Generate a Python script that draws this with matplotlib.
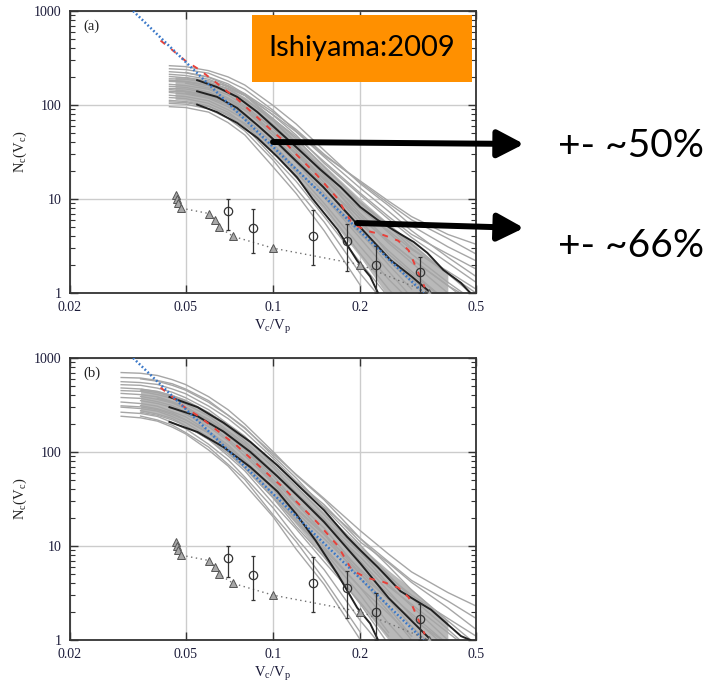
import numpy as np
import matplotlib.pyplot as plt
from matplotlib.patches import Rectangle, FancyArrowPatch

plt.rcParams['font.family'] = ['Liberation Serif', 'DejaVu Serif']
plt.rcParams['mathtext.fontset'] = 'stix'

nan = np.nan

# ---- data ----
# power-law fit (blue dotted) and mean (red dashed)
fit_x = [0.033, 0.33]
fit_n = [1000, 1]
red_x = [0.041, 0.045, 0.050, 0.0555, 0.062, 0.0675, 0.075, 0.091, 0.10, 0.109, 0.12,
         0.142, 0.167, 0.187, 0.21, 0.24, 0.27, 0.293, 0.317, 0.333]
red_n = [485, 385, 294, 240, 185, 150, 117, 68, 52, 41.5, 30,
         17.8, 10.1, 5.5, 4.6, 4.14, 3.6, 2.85, 1.63, 1.15]

# black lines, panel (a)
up_a_x = [0.0548, 0.0642, 0.0752, 0.0884, 0.1036, 0.121, 0.146, 0.171, 0.2, 0.229, 0.26,
          0.305, 0.34, 0.386, 0.444, 0.478]
up_a_n = [184, 155, 122, 84, 54, 35, 20.4, 13.4, 8.2, 6.0, 4.68, 3.49, 2.67, 1.76, 1.28, 1.0]
mid_a_x = [0.0548, 0.0642, 0.0752, 0.0884, 0.1036, 0.121, 0.149, 0.19, 0.254, 0.30, 0.35]
mid_a_n = [140, 122, 93, 61, 39.5, 24.8, 13.4, 5.9, 2.24, 1.5, 1.0]
low_a_x = [0.0548, 0.0642, 0.0752, 0.0884, 0.1036, 0.121, 0.137, 0.167, 0.195, 0.216, 0.23]
low_a_n = [101, 84, 64.5, 44.6, 28, 17, 10, 4.7, 2.2, 1.5, 1.0]

# black lines, panel (b)
up_b_x = [0.044, 0.055, 0.0675, 0.0836, 0.1036, 0.124, 0.15, 0.18, 0.2, 0.229, 0.275, 0.35,
          0.444, 0.478]
up_b_n = [385, 300, 205, 128, 72, 42, 24, 12.5, 9, 6, 3.3, 2.1, 1.1, 1.0]
mid_b_x = [0.044, 0.055, 0.0675, 0.0836, 0.1036, 0.127, 0.15, 0.2, 0.25, 0.3, 0.35]
mid_b_n = [300, 240, 165, 100, 55, 30, 18, 6.5, 2.8, 1.6, 1.0]
low_b_x = [0.044, 0.055, 0.0675, 0.0836, 0.1036, 0.12, 0.14, 0.167, 0.195, 0.216, 0.23]
low_b_n = [209, 163, 113, 69, 38, 22, 11.5, 5, 2.2, 1.5, 1.0]

# dense core of the halo-to-halo scatter
band_a_x = [0.046, 0.05, 0.06, 0.07, 0.08, 0.1, 0.12, 0.15, 0.2, 0.25, 0.3, 0.35, 0.4]
band_a_lo = [115, 112, 98, 78, 60, 31, 17, 7.5, 2.4, 0.9, 0.5, 0.3, 0.2]
band_a_hi = [200, 198, 180, 152, 122, 72, 44, 23, 10, 5.5, 3.5, 2.3, 1.6]
band_b_x = [0.035, 0.04, 0.045, 0.05, 0.06, 0.07, 0.08, 0.1, 0.12, 0.15, 0.2, 0.25, 0.3,
            0.35, 0.4]
band_b_lo = [270, 255, 225, 195, 140, 98, 68, 33, 17, 7.5, 2.4, 1.0, 0.5, 0.3, 0.2]
band_b_hi = [480, 450, 410, 365, 270, 195, 140, 75, 44, 23, 10, 5.5, 3.5, 2.3, 1.6]

# individual halos (gray), panel (a)
grid_a = [0.044, 0.05, 0.06, 0.07, 0.08, 0.1, 0.12, 0.15, 0.2, 0.25, 0.3, 0.4, 0.5]
gray_a = [
    [262, 256, 232, 199, 163, 99, 63, 33, 14.5, 8.5, 5.2, 3.1, 2.2],
    [243, 238, 218, 180, 147, 88, 53, 29, 15.5, 9.5, 6.5, 4.2, 3.3],
    [nan, 222, 199, 168, 131, 78, 48, 24, 11, 6.1, 3.9, 2.1, 1.3],
    [212, 206, 188, 155, 127, 72, 44, 22, 9.2, 5.3, 3.3, 1.6, 0.9],
    [201, 195, 175, 148, 116, 68, 39, 20, 8.1, 4.4, 2.6, 1.3, 0.8],
    [190, 188, 172, 150, 126, 79, 52, 28, 13, 7.4, 4.6, 2.4, 1.5],
    [183, 179, 163, 134, 109, 62, 37, 18.5, 7.0, 3.6, 2.3, 1.2, 0.7],
    [nan, 171, 152, 128, 98, 56, 33, 16.5, 6.6, 3.4, 2.1, 1.0],
    [166, 161, 147, 119, 94, 51, 30, 15, 5.5, 2.8, 1.7, 0.8],
    [158, 154, 138, 114, 89, 48, 27, 13, 4.8, 2.2, 1.3, 0.6],
    [150, 148, 134, 116, 95, 57, 35, 19, 9.0, 5.2, 3.0, 1.6, 1.0],
    [146, 141, 128, 104, 81, 42, 24.5, 11.5, 4.4, 2.0, 1.1],
    [nan, 134, 121, 101, 78, 44, 27, 14, 6.2, 3.6, 2.3, 1.2, 0.8],
    [136, 131, 118, 96, 74, 39, 21, 10.5, 3.8, 1.7, 0.9],
    [127, 123, 111, 89, 70, 34, 19.5, 9, 3.1, 1.4, 0.8],
    [120, 117, 104, 84, 62, 32, 17, 8.3, 2.6, 1.1, 0.6],
    [112, 109, 98, 77, 59, 28, 15.5, 6.5, 2.1, 0.9],
    [104, 102, 91, 72, 53, 26, 13, 5.7, 1.6, 0.7],
    [96, 94, 84, 65, 48, 22, 11.5, 4.6, 1.2],
    [226, 220, 197, 161, 127, 69, 40, 17.5, 6.0, 2.6, 1.6, 0.8],
    [178, 176, 160, 139, 114, 71, 46, 25, 11.5, 6.5, 4.2, 2.6, 1.8],
    [nan, 196, 181, 158, 132, 84, 55, 30, 15, 9.0, 6.0, 3.8, 2.6],
    [140, 138, 125, 108, 88, 52, 31, 16, 7.8, 4.6, 2.9, 1.7, 1.1],
    [108, 106, 96, 80, 64, 36, 21, 10.5, 4.2, 2.3, 1.4, 0.7],
]

# individual halos (gray), panel (b)
grid_b = [0.03, 0.035, 0.04, 0.045, 0.05, 0.06, 0.07, 0.08, 0.1, 0.12, 0.15, 0.2, 0.25, 0.3,
          0.4, 0.5]
gray_b = [
    [700, 688, 652, 588, 522, 388, 282, 198, 101, 57, 31, 12, 6.1, 3.4, 1.6, 0.9],
    [620, 612, 577, 532, 468, 352, 247, 182, 91, 53, 25.5, 10.2, 4.9, 2.8, 1.3, 0.7],
    [560, 548, 523, 468, 417, 308, 227, 163, 86, 49, 27.5, 11, 6.6, 4.1, 2.2, 1.3],
    [520, 512, 478, 432, 378, 282, 198, 147, 74, 43, 21.5, 8.6, 3.9, 2.3, 1.0],
    [480, 468, 442, 398, 352, 258, 187, 130, 69, 37, 19.5, 6.9, 3.3, 1.8, 0.8],
    [450, 442, 408, 372, 323, 242, 168, 123, 61, 35.5, 17.5, 7.6, 3.7, 2.4, 1.2, 0.7],
    [420, 408, 386, 343, 302, 218, 157, 108, 56, 29.5, 15.5, 5.4, 2.7, 1.4, 0.6],
    [nan, 390, 363, 332, 288, 214, 148, 106, 51, 28.5, 13.6, 5.1, 2.2, 1.1],
    [380, 372, 343, 312, 268, 197, 137, 98, 48.5, 25.5, 13.3, 4.5, 2.0, 1.0],
    [nan, 352, 328, 297, 253, 186, 131, 91, 46.5, 24.5, 13.2, 5.6, 3.1, 1.9, 0.9],
    [340, 328, 307, 268, 237, 166, 119, 81, 40.5, 21, 9.7, 3.6, 1.5, 0.8],
    [nan, 312, 288, 259, 221, 159, 108, 77, 35.5, 19.3, 8.8, 3.0, 1.2],
    [300, 290, 272, 238, 206, 144, 101, 67, 32.5, 16.2, 7.6, 2.4, 0.9],
    [nan, 276, 253, 227, 191, 136, 91, 63, 28.5, 15.3, 6.8, 2.5, 1.1],
    [265, 257, 239, 206, 177, 121, 83, 54, 25.5, 12.3, 5.6, 1.6, 0.7],
    [nan, 241, 219, 193, 161, 113, 74, 51, 21.5, 11.2, 4.4, 1.2],
    [240, 231, 213, 184, 156, 105, 71, 45, 20.5, 9.3, 3.9, 1.0],
    [nan, 600, 566, 512, 455, 338, 246, 178, 96, 58, 32, 14.5, 8.2, 5.3, 3.2, 2.3],
    [nan, 455, 428, 388, 345, 262, 192, 141, 78, 47, 26, 12, 6.8, 4.3, 2.6, 1.7],
    [nan, nan, 372, 338, 297, 224, 162, 117, 62, 36, 19, 8.4, 4.7, 3.0, 1.7, 1.1],
    [310, 302, 282, 250, 219, 159, 113, 80, 41, 23, 12, 5.0, 2.7, 1.7, 0.9],
    [nan, 265, 246, 219, 190, 137, 96, 67, 33, 18, 9.2, 3.6, 1.9, 1.1],
]

# observations (same in both panels)
sat_x = [0.0464, 0.0466, 0.0471, 0.0482, 0.0603, 0.0632, 0.0652, 0.073, 0.10, 0.20, 0.345]
sat_n = [11, 10, 9, 8, 7, 6, 5, 4, 3, 2, 1]
obs_x = [0.0702, 0.0854, 0.137, 0.18, 0.227, 0.322]
obs_n = [7.45, 4.9, 4.0, 3.6, 2.0, 1.67]
obs_hi = [10.0, 7.8, 7.6, 5.4, 3.2, 2.4]
obs_lo = [4.7, 2.67, 2.0, 1.7, 1.0, 1.0]

W, H = 706, 686
fig = plt.figure(figsize=(W / 100, H / 100), dpi=100)


def fx(px):
    return px / W


def fy(py):
    return 1 - py / H


label_col = '#1c1c3a'
ax_a = fig.add_axes([fx(70), fy(293), 406 / W, 282 / H])
ax_b = fig.add_axes([fx(70), fy(640), 406 / W, 282 / H])

panels = [
    (ax_a, '(a)', grid_a, gray_a, (band_a_x, band_a_lo, band_a_hi),
     (up_a_x, up_a_n), (mid_a_x, mid_a_n), (low_a_x, low_a_n)),
    (ax_b, '(b)', grid_b, gray_b, (band_b_x, band_b_lo, band_b_hi),
     (up_b_x, up_b_n), (mid_b_x, mid_b_n), (low_b_x, low_b_n)),
]

for ax, tag, grid, grays, band, up, mid, low in panels:
    ax.set_xscale('log')
    ax.set_yscale('log')
    ax.set_xlim(0.02, 0.5)
    ax.set_ylim(1, 1000)
    ax.fill_between(band[0], band[1], band[2], color='#b9b9b9', lw=0, zorder=1.5)
    for g in grays:
        ax.plot(grid[:len(g)], g, color='#a6a6a6', lw=1.0, zorder=2)
    for xs, ns in (up, mid, low):
        ax.plot(xs, ns, color='#222222', lw=1.4, zorder=3)
    ax.plot(red_x, red_n, color='#e8413a', lw=1.4, ls=(0, (3, 4)), zorder=4)
    ax.plot(fit_x, fit_n, color='#3a78c8', lw=1.8, ls=(0, (0.7, 0.9)), zorder=4)
    ax.plot(sat_x, sat_n, color='#707070', lw=1.0, ls=(0, (1, 2.5)), zorder=5)
    ax.plot(sat_x, sat_n, ls='none', marker='^', ms=5.5, mfc='#a8a8a8', mec='#555555',
            mew=0.7, zorder=6)
    yerr = [np.subtract(obs_n, obs_lo), np.subtract(obs_hi, obs_n)]
    ax.errorbar(obs_x, obs_n, yerr=yerr, fmt='o', ms=6, mfc='none', mec='#333333',
                mew=0.9, ecolor='#333333', elinewidth=0.9, capsize=1.5, zorder=6)

    ax.set_xticks([0.02, 0.05, 0.1, 0.2, 0.5])
    ax.set_xticklabels(['0.02', '0.05', '0.1', '0.2', '0.5'])
    ax.xaxis.set_minor_locator(plt.NullLocator())
    ax.set_yticks([1, 10, 100, 1000])
    ax.set_yticklabels(['1', '10', '100', '1000'])
    ax.grid(True, which='major', color='#cccccc', lw=1.0, zorder=0)
    ax.set_axisbelow(True)
    ax.tick_params(which='both', direction='in', top=True, right=True,
                   labelsize=10, labelcolor=label_col, color='#333333')
    ax.tick_params(which='major', length=6, width=1.0, pad=6)
    ax.tick_params(which='minor', length=3.5, width=0.8)
    for s in ax.spines.values():
        s.set_linewidth(1.3)
        s.set_color('#333333')
    ax.text(0.032, 0.947, tag, transform=ax.transAxes, fontsize=10.5,
            color='#222222', va='center', ha='left')

for top_px, bot_px in ((11, 293), (358, 640)):
    fig.text(fx(20), fy((top_px + bot_px) / 2), r'$\mathregular{N_c(V_c)}$',
             rotation=90, ha='center', va='center', fontsize=10.5, color='#222222')
    fig.text(fx(273), fy(bot_px + 34), r'$\mathregular{V_c/V_p}$',
             ha='center', va='center', fontsize=10.5, color=label_col)

# slide annotations
fig.add_artist(Rectangle((fx(252), fy(82)), 220 / W, 67 / H, transform=fig.transFigure,
                         facecolor='#ff9000', edgecolor='none', zorder=5))
fig.text(fx(362), fy(48), 'Ishiyama:2009', ha='center', va='center', fontsize=21,
         family='Lato', color='black', zorder=6)

for (x0, y0), (x1, y1), txt, ty in (((273, 142), (524, 144), '+- ~50%', 146),
                                    ((357, 223), (524, 228), '+- ~66%', 246)):
    fig.add_artist(FancyArrowPatch((fx(x0), fy(y0)), (fx(x1), fy(y1)),
                                   transform=fig.transFigure,
                                   arrowstyle='-|>,head_length=1.0,head_width=0.52',
                                   mutation_scale=16, lw=4.3, color='black',
                                   shrinkA=0, shrinkB=0, zorder=6))
    fig.text(fx(558), fy(ty), txt, ha='left', va='center', fontsize=28,
             family='Lato', color='black')

fig.savefig('out.png', dpi=100)
